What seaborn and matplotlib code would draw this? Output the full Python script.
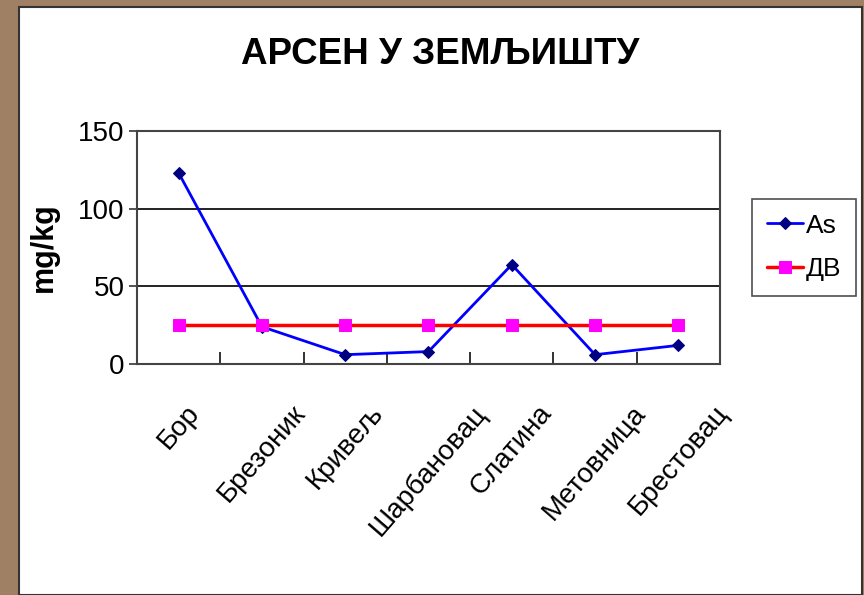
import matplotlib
matplotlib.use("Agg")
import matplotlib.pyplot as plt
from matplotlib.patches import Rectangle
import seaborn as sns
import pandas as pd

sites = ["Бор", "Брезоник", "Кривељ", "Шарбановац", "Слатина", "Метовница", "Брестовац"]
arsenic = [123, 24, 6, 8, 64, 6, 12]
limit_dv = [25, 25, 25, 25, 25, 25, 25]

sns.set_style("white")
plt.rcParams["font.family"] = ["Liberation Sans Narrow", "Liberation Sans", "DejaVu Sans"]
plt.rcParams["text.color"] = "black"
plt.rcParams["xtick.color"] = "black"
plt.rcParams["ytick.color"] = "black"
plt.rcParams["axes.labelcolor"] = "black"

fig = plt.figure(figsize=(8.64, 5.95), dpi=100, facecolor="#A08064")
# white chart panel inside brown frame
fig.patches.append(Rectangle((19 / 864, 0), 843 / 864, 1 - 7 / 595, transform=fig.transFigure,
                             facecolor="white", edgecolor="#333333", linewidth=1.5, zorder=-10))

ax = fig.add_axes([137 / 864, 1 - 364 / 595, 583 / 864, 233 / 595])
ax.set_zorder(5)
ax.set_facecolor("white")

df = pd.DataFrame({"site": sites, "As": arsenic, "ДВ": limit_dv})

sns.lineplot(data=df, x="site", y="As", ax=ax, color="#0000FF", linewidth=2,
             marker="D", markersize=6, markerfacecolor="#000080", markeredgecolor="#000080",
             label="As", sort=False)
sns.lineplot(data=df, x="site", y="ДВ", ax=ax, color="#FF0000", linewidth=2.5,
             marker="s", markersize=9, markerfacecolor="#FF00FF", markeredgecolor="#FF00FF",
             label="ДВ", sort=False)

ax.set_xlim(-0.5, len(sites) - 0.5)
ax.set_ylim(0, 150)
ax.set_yticks([0, 50, 100, 150])
for y in [50, 100]:
    ax.axhline(y, color="#111111", linewidth=1.3, zorder=0)

for s in ax.spines.values():
    s.set_visible(True)
    s.set_color("#444444")
    s.set_linewidth(1.5)

ax.tick_params(axis="y", labelsize=20, length=6, direction="out", color="#444444",
               width=1.3, left=True, pad=3)
ax.set_xticks(range(len(sites)))
ax.set_xticklabels(sites, rotation=49, ha="center", va="top", fontsize=20)
ax.tick_params(axis="x", length=0, pad=26)
# minor ticks between categories, pointing inward
ax.set_xticks([i + 0.5 for i in range(len(sites) - 1)], minor=True)
ax.tick_params(axis="x", which="minor", direction="in", length=9, color="#222222", width=1.3, bottom=True)

ax.set_xlabel("")
ax.set_ylabel("mg/kg", fontsize=22, fontweight="bold", labelpad=14)

fig.text(440 / 864, 1 - 55 / 595, "АРСЕН У ЗЕМЉИШТУ", ha="center", va="center",
         fontsize=26.5, fontweight="bold")

ax.get_legend().remove()
h, l = ax.get_legend_handles_labels()
leg = fig.legend(h, l, loc="upper left", bbox_to_anchor=(752 / 864, 1 - 199 / 595),
                 borderaxespad=0, frameon=True, fancybox=False, fontsize=19, handlelength=1.4,
                 handletextpad=0.1, borderpad=0.55, labelspacing=0.75)
leg.get_frame().set_edgecolor("#222222")
leg.get_frame().set_linewidth(1.2)

fig.savefig("out.png", dpi=100, facecolor=fig.get_facecolor())
